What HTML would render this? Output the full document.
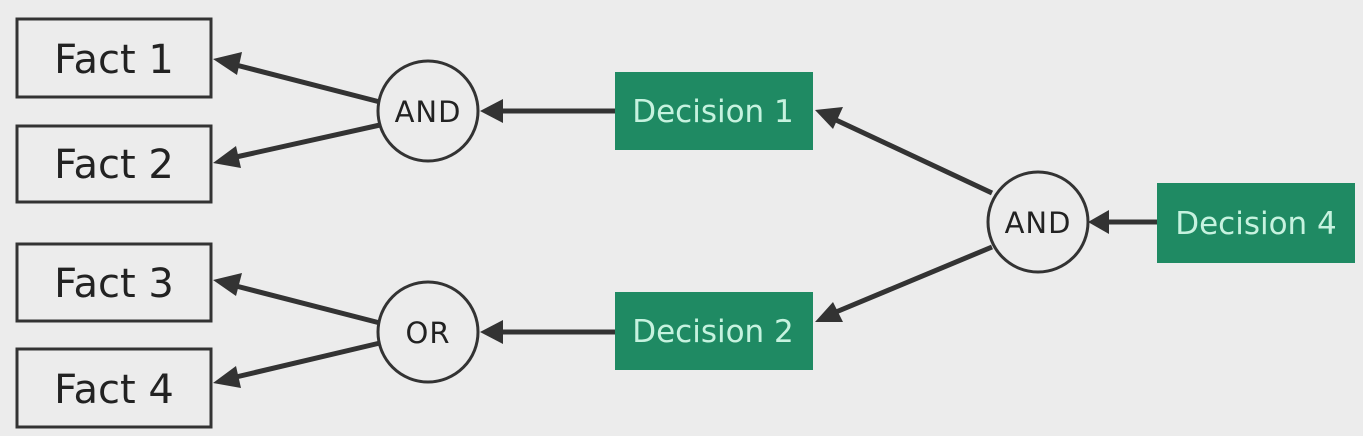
<!DOCTYPE html>
<html><head><style>
html,body{margin:0;padding:0;background:#ececec;}
svg{display:block;}
text{font-family:"DejaVu Sans","Liberation Sans",sans-serif;}
</style></head><body>
<svg width="1363" height="436" viewBox="0 0 1363 436" xmlns="http://www.w3.org/2000/svg">
<rect width="1363" height="436" fill="#ececec"/>
<g fill="none" stroke="#333" stroke-width="3">
<rect x="17" y="19" width="194" height="78"/>
<rect x="17" y="126" width="194" height="76"/>
<rect x="17" y="244" width="194" height="77"/>
<rect x="17" y="349" width="194" height="78"/>
<circle cx="428" cy="111" r="50"/>
<circle cx="428" cy="332" r="50"/>
<circle cx="1038" cy="222" r="50"/>
</g>
<g fill="#1f8a63">
<rect x="615" y="72" width="198" height="78"/>
<rect x="615" y="292" width="198" height="78"/>
<rect x="1157" y="183" width="198" height="80"/>
</g>
<g stroke="#333" stroke-width="5" fill="none">
<line x1="380" y1="102" x2="236" y2="65"/>
<line x1="380" y1="125" x2="236" y2="157"/>
<line x1="380" y1="323" x2="236" y2="286"/>
<line x1="380" y1="343" x2="236" y2="377"/>
<line x1="615" y1="111" x2="500" y2="111"/>
<line x1="615" y1="332" x2="500" y2="332"/>
<line x1="1157" y1="222" x2="1106" y2="222"/>
<line x1="992" y1="193" x2="836" y2="120"/>
<line x1="992" y1="247" x2="836" y2="312"/>
</g>
<g fill="#333">
<polygon points="213,59 242,52 237,75"/>
<polygon points="213,163 236,146 241,168"/>
<polygon points="213,280 242,273 236,296"/>
<polygon points="213,383 236,366 241,388"/>
<polygon points="480,111 503,99 503,123"/>
<polygon points="480,332 503,320 503,344"/>
<polygon points="1088,222 1109,210 1109,234"/>
<polygon points="815,110 843,107 833,129"/>
<polygon points="815,322 833,302 843,322"/>
</g>
<g font-size="40" fill="#222" text-anchor="middle">
<text x="114" y="73">Fact 1</text>
<text x="114" y="178">Fact 2</text>
<text x="114" y="297">Fact 3</text>
<text x="114" y="403">Fact 4</text>
</g>
<g font-size="29" fill="#222" text-anchor="middle" letter-spacing="1">
<text x="428" y="122">AND</text>
<text x="428" y="343">OR</text>
<text x="1038" y="233">AND</text>
</g>
<g font-size="31" fill="#c6f2df" text-anchor="middle">
<text x="713" y="122">Decision 1</text>
<text x="713" y="342">Decision 2</text>
<text x="1256" y="234">Decision 4</text>
</g>
</svg>
</body></html>
